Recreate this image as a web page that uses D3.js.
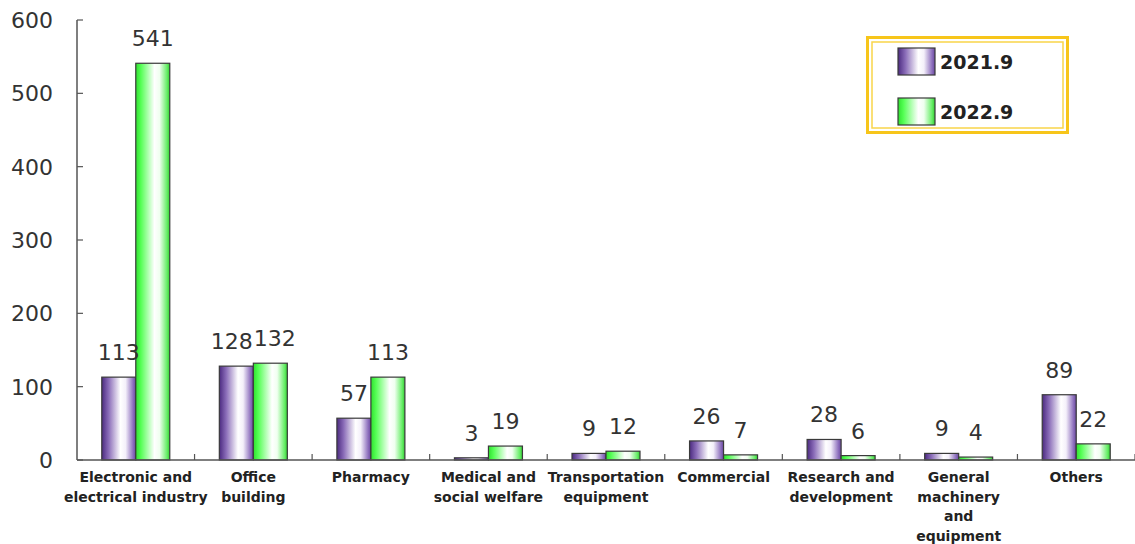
<!DOCTYPE html>
<html>
<head>
<meta charset="utf-8">
<script src="https://cdn.jsdelivr.net/npm/d3@7/dist/d3.min.js"></script>
<style>
  html, body { margin: 0; padding: 0; background: #fff; }
  svg { display: block; }
</style>
</head>
<body>
<svg id="chart" width="1135" height="544"></svg>
<script>
// Category labels (each entry is a list of lines)
const categories = [
  ["Electronic and", "electrical industry"],
  ["Office", "building"],
  ["Pharmacy"],
  ["Medical and", "social welfare"],
  ["Transportation", "equipment"],
  ["Commercial"],
  ["Research and", "development"],
  ["General", "machinery", "and", "equipment"],
  ["Others"]
];
const seriesNames = ["2021.9", "2022.9"];
const values2021 = [113, 128, 57, 3, 9, 26, 28, 9, 89];
const values2022 = [541, 132, 113, 19, 12, 7, 6, 4, 22];
const yTicks = [0, 100, 200, 300, 400, 500, 600];

const svg = d3.select("#chart");
const plotLeft = 77, plotRight = 1135, plotTop = 20, plotBottom = 460;

const x = d3.scaleBand().domain(d3.range(categories.length)).range([plotLeft, plotRight]).padding(0);
const barW = 34;
const xs = d3.scaleBand().domain(seriesNames).range([0, barW * 2]);
const y = d3.scaleLinear().domain([0, 600]).range([plotBottom, plotTop]);

// Gradients for the cylinder-like bar fill
const defs = svg.append("defs");
function grad(id, stops) {
  const g = defs.append("linearGradient").attr("id", id)
    .attr("x1", "0%").attr("x2", "100%").attr("y1", "0%").attr("y2", "0%");
  stops.forEach(s => g.append("stop").attr("offset", s[0]).attr("stop-color", s[1]));
}
grad("gPurple", [["0%", "#4b2a80"], ["20%", "#8a6cb8"], ["55%", "#ffffff"], ["70%", "#f4f0fa"], ["92%", "#8d6fbd"], ["100%", "#6a48a0"]]);
grad("gGreen", [["0%", "#2fe02f"], ["15%", "#55ff55"], ["55%", "#ffffff"], ["70%", "#f0fff0"], ["92%", "#66ee66"], ["100%", "#33cc33"]]);
const fills = { "2021.9": "url(#gPurple)", "2022.9": "url(#gGreen)" };

const data = categories.map((c, i) => ({ i, vals: [
  { s: seriesNames[0], v: values2021[i] },
  { s: seriesNames[1], v: values2022[i] }
]}));

// Y axis
svg.append("line").attr("x1", plotLeft).attr("x2", plotLeft).attr("y1", plotTop).attr("y2", plotBottom)
  .attr("stroke", "#555").attr("stroke-width", 1.5);
svg.selectAll(".ytick").data(yTicks).join("line")
  .attr("x1", plotLeft).attr("x2", plotLeft + 6)
  .attr("y1", d => y(d)).attr("y2", d => y(d))
  .attr("stroke", "#555").attr("stroke-width", 1.2);
svg.selectAll(".ylab").data(yTicks).join("text")
  .attr("x", 53).attr("y", d => y(d) + 8)
  .attr("text-anchor", "end")
  .attr("font-family", "DejaVu Sans, sans-serif").attr("font-size", 22)
  .attr("fill", "#333").text(d => d);

// Bars
const groups = svg.selectAll(".grp").data(data).join("g")
  .attr("transform", d => `translate(${x(d.i) + x.bandwidth() / 2 - barW},0)`);
groups.selectAll("rect").data(d => d.vals).join("rect")
  .attr("x", d => xs(d.s)).attr("width", xs.bandwidth())
  .attr("y", d => y(d.v)).attr("height", d => y(0) - y(d.v))
  .attr("fill", d => fills[d.s]).attr("stroke", "#3a3a3a").attr("stroke-width", 1.2);

// Value labels; a pair that would collide is pushed apart
groups.each(function(d) {
  const g = d3.select(this);
  const labels = g.selectAll("text").data(d.vals).join("text")
    .attr("x", v => xs(v.s) + xs.bandwidth() / 2)
    .attr("y", v => y(v.v) - 17)
    .attr("text-anchor", "middle")
    .attr("font-family", "DejaVu Sans, sans-serif").attr("font-size", 22)
    .attr("fill", "#333").text(v => v.v);
  const nodes = labels.nodes();
  const w0 = nodes[0].getComputedTextLength(), w1 = nodes[1].getComputedTextLength();
  const c0 = xs(d.vals[0].s) + xs.bandwidth() / 2, c1 = xs(d.vals[1].s) + xs.bandwidth() / 2;
  const vOverlap = Math.abs(y(d.vals[0].v) - y(d.vals[1].v)) < 24;
  const overlap = (w0 + w1) / 2 - (c1 - c0) + 1;
  if (vOverlap && overlap > 0) {
    d3.select(nodes[0]).attr("x", c0 - overlap / 2);
    d3.select(nodes[1]).attr("x", c1 + overlap / 2);
  }
});

// X axis
svg.append("line").attr("x1", plotLeft).attr("x2", plotRight).attr("y1", plotBottom).attr("y2", plotBottom)
  .attr("stroke", "#555").attr("stroke-width", 1.5);
svg.selectAll(".xtick").data(d3.range(1, categories.length + 1)).join("line")
  .attr("x1", d => plotLeft + d * x.step()).attr("x2", d => plotLeft + d * x.step())
  .attr("y1", plotBottom).attr("y2", plotBottom - 6)
  .attr("stroke", "#555").attr("stroke-width", 1.2);

// Category labels
const cl = svg.selectAll(".clab").data(categories).join("text")
  .attr("text-anchor", "middle")
  .attr("font-family", "DejaVu Sans, sans-serif").attr("font-weight", "bold")
  .attr("font-size", 14).attr("fill", "#222");
cl.each(function(lines, i) {
  d3.select(this).selectAll("tspan").data(lines).join("tspan")
    .attr("x", x(i) + x.bandwidth() / 2)
    .attr("y", (d, k) => 482 + k * 19.5)
    .text(d => d);
});

// Legend
const lg = svg.append("g");
lg.append("rect").attr("x", 867.5).attr("y", 37.5).attr("width", 200).attr("height", 95)
  .attr("fill", "#fff").attr("stroke", "#f7c51a").attr("stroke-width", 3);
lg.append("rect").attr("x", 872).attr("y", 42).attr("width", 191).attr("height", 86)
  .attr("fill", "none").attr("stroke", "#f9d54a").attr("stroke-width", 1.5);
seriesNames.forEach((s, k) => {
  const yy = 48 + k * 50;
  lg.append("rect").attr("x", 898).attr("y", yy).attr("width", 37).attr("height", 27)
    .attr("fill", fills[s]).attr("stroke", "#3a3a3a").attr("stroke-width", 1.2);
  lg.append("text").attr("x", 940).attr("y", yy + 21)
    .attr("font-family", "DejaVu Sans, sans-serif").attr("font-weight", "bold")
    .attr("font-size", 19).attr("fill", "#222").text(s);
});
</script>
</body>
</html>
